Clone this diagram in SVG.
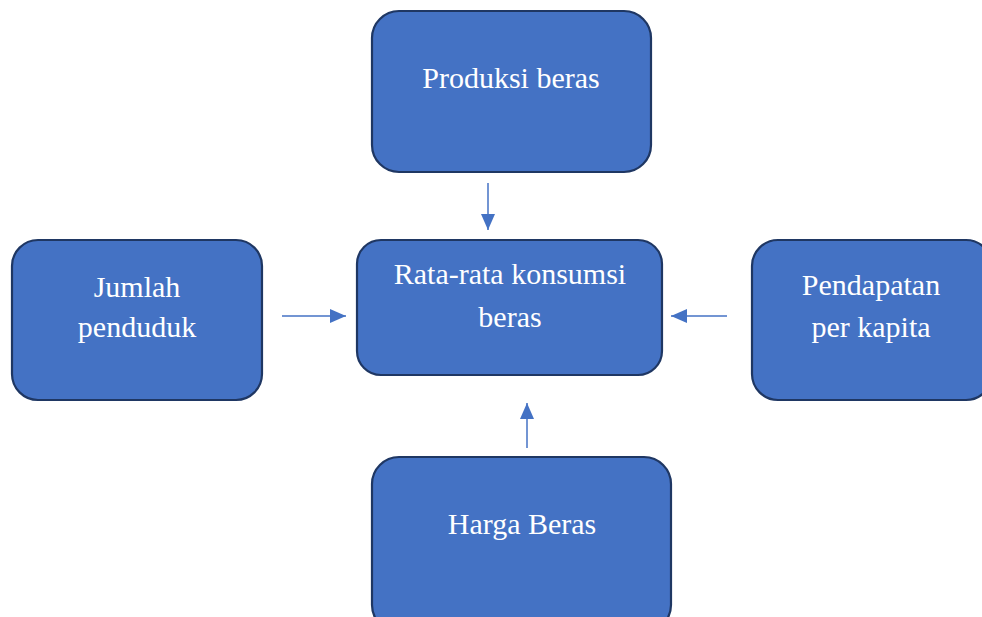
<svg xmlns="http://www.w3.org/2000/svg" width="982" height="617" viewBox="0 0 982 617">
<style>
.box{fill:#4472C4;stroke:#1F3763;stroke-width:2.2}
.t{font-family:"Liberation Serif","DejaVu Serif",serif;font-size:30px;fill:#FFFFFF;text-anchor:middle}
.c{stroke:#4472C4;stroke-width:1.5;fill:none}
</style>
<defs>
<marker id="ah" viewBox="0 0 16 14" refX="16" refY="7" markerWidth="16" markerHeight="14" markerUnits="userSpaceOnUse" orient="auto">
<path d="M0,0 L16,7 L0,14 z" fill="#4472C4"/>
</marker>
</defs>
<rect width="982" height="617" fill="#FFFFFF"/>
<g id="produksi">
<rect class="box" x="372" y="11" width="279" height="161" rx="27"/>
<text class="t" x="511" y="88">Produksi beras</text>
</g>
<g id="rata">
<rect class="box" x="357" y="240" width="305" height="135" rx="24"/>
<text class="t" x="510" y="284">Rata-rata konsumsi</text>
<text class="t" x="510" y="327">beras</text>
</g>
<g id="jumlah">
<rect class="box" x="12" y="240" width="250" height="160" rx="26"/>
<text class="t" x="137" y="297">Jumlah</text>
<text class="t" x="137" y="337">penduduk</text>
</g>
<g id="pendapatan">
<rect class="box" x="752" y="240" width="240" height="160" rx="26"/>
<text class="t" x="871" y="295">Pendapatan</text>
<text class="t" x="871" y="337">per kapita</text>
</g>
<g id="harga">
<rect class="box" x="372" y="457" width="299" height="175" rx="27"/>
<text class="t" x="522" y="534">Harga Beras</text>
</g>
<g id="connectors">
<line class="c" x1="488" y1="183" x2="488" y2="230" marker-end="url(#ah)"/>
<line class="c" x1="282" y1="316" x2="346" y2="316" marker-end="url(#ah)"/>
<line class="c" x1="727" y1="316" x2="671" y2="316" marker-end="url(#ah)"/>
<line class="c" x1="527" y1="448" x2="527" y2="403" marker-end="url(#ah)"/>
</g>
</svg>
